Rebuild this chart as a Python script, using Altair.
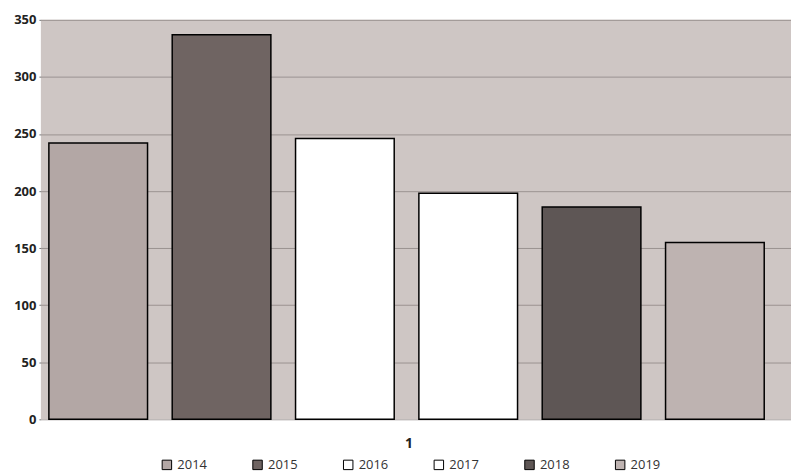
import altair as alt
import pandas as pd

years = ["2014", "2015", "2016", "2017", "2018", "2019"]
values = [242, 337, 246, 198, 186, 155]
colors = ["#b3a7a5", "#6f6462", "#ffffff", "#ffffff", "#5e5655", "#beb3b1"]

df = pd.DataFrame({"year": years, "value": values})

chart = alt.Chart(df).mark_bar(stroke="black", strokeWidth=1.5).encode(
    x=alt.X(
        "year:N",
        scale=alt.Scale(paddingInner=0.2, paddingOuter=0.141, align=0.23),
        axis=alt.Axis(labels=False, ticks=False, domain=False, title="1",
                      titleFont="Open Sans", titleFontSize=14, titleFontWeight="bold",
                      titleColor="#222222", titlePadding=17, titleX=369),
    ),
    y=alt.Y(
        "value:Q",
        scale=alt.Scale(domain=[0, 350]),
        axis=alt.Axis(values=[0, 50, 100, 150, 200, 250, 300, 350], title=None,
                      labelFont="Open Sans", labelFontSize=13, labelFontWeight="bold",
                      labelColor="#222222", domain=False, tickSize=2, tickColor="#777777",
                      labelPadding=3,
                      gridColor="#857d7b", gridWidth=1, gridOpacity=0.7),
    ),
    color=alt.Color(
        "year:N",
        scale=alt.Scale(domain=years, range=colors),
        legend=alt.Legend(orient="none", legendX=120, legendY=440, direction="horizontal",
                          title=None, symbolType="square", symbolSize=90,
                          symbolStrokeColor="black", symbolStrokeWidth=1,
                          labelFont="Open Sans", labelFontSize=13, labelColor="#333333",
                          columnPadding=43, labelOffset=4),
    ),
).properties(
    width=753, height=401, background="white",
    padding={"left": 5, "top": 5, "right": 0, "bottom": 0},
).configure_view(
    fill="#cec6c4", stroke=None
)

chart.save("out.html", embed_options={"renderer": "svg", "actions": False})
